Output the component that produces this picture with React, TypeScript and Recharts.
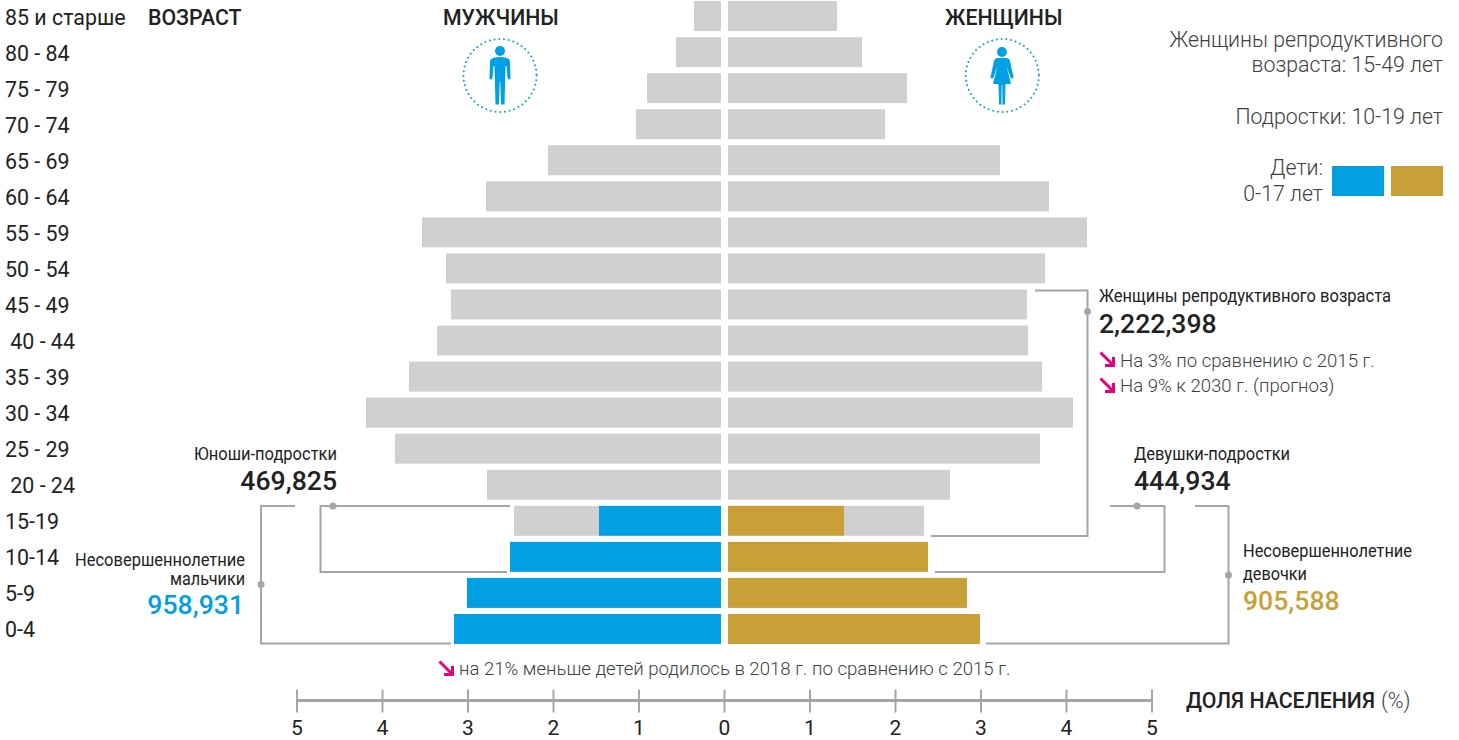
import React from "react";
import { ComposedChart, Bar, XAxis, YAxis } from "recharts";

const ageGroups = ["85 и старше","80 - 84","75 - 79","70 - 74","65 - 69","60 - 64","55 - 59","50 - 54","45 - 49","\u00a040 - 44","35 - 39","30 - 34","25 - 29","\u00a020 - 24","15-19","10-14","5-9","0-4"];
const maleGrey = [0.316,0.526,0.865,0.994,2.023,2.749,3.497,3.216,3.158,3.322,3.649,4.152,3.813,2.737,0.994,0,0,0];
const maleChild = [0,0,0,0,0,0,0,0,0,0,0,0,0,0,1.427,2.468,2.971,3.123];
const femaleGrey = [1.275,1.567,2.094,1.836,3.181,3.754,4.199,3.708,3.497,3.509,3.673,4.035,3.649,2.596,0.936,0,0,0];
const femaleChild = [0,0,0,0,0,0,0,0,0,0,0,0,0,0,1.357,2.339,2.795,2.947];
const axisTicks = [-5,-4,-3,-2,-1,0,1,2,3,4,5];

const rows = ageGroups.map((age, i) => ({
  age,
  maleChild: -maleChild[i],
  maleGrey: -maleGrey[i],
  femaleChild: femaleChild[i],
  femaleGrey: femaleGrey[i],
}));

const FONT = "Roboto, sans-serif";
const INK = "#222222";
const SOFT = "#404040";
const BLUE = "#00A0E3";
const GOLD = "#C9A037";
const GREY = "#D0D0D0";
const RULE = "#A6A6A6";
const GAP = 3.5;

const makeShape = (side: number) => (p: any) => {
  if (!p.width || Math.abs(p.width) < 0.01) return <g />;
  const x0 = Math.min(p.x, p.x + p.width) + side * GAP;
  return <rect x={x0} y={p.y} width={Math.abs(p.width)} height={p.height} fill={p.fill} />;
};
const leftShape = makeShape(-1);
const rightShape = makeShape(1);

const AgeTick = (p: any) => (
  <text x={5} y={p.y + 8.5} fontFamily={FONT} fontSize={21.4} fill={INK} style={{ whiteSpace: "pre" }}>{p.payload.value}</text>
);
const ShareTick = (p: any) => (
  <g>
    <line x1={p.x} x2={p.x} y1={691.5} y2={714.5} stroke={RULE} strokeWidth={2} />
    <text x={p.x} y={737} textAnchor="middle" fontFamily={FONT} fontSize={21} fill={INK}>{Math.abs(p.payload.value)}</text>
  </g>
);

const Arrow = ({ x, y }: { x: number; y: number }) => (
  <g transform={`translate(${x} ${y})`} fill="none" stroke="#E6007E" strokeWidth={3}>
    <path d="M0.5 0.5 L12 12" />
    <path d="M13.5 5 V13.5 H5" strokeWidth={3} />
  </g>
);

const Cond = ({ x, y, w, anchor = "start", size = 18, children }: any) => (
  <text x={x} y={y} textAnchor={anchor} fontFamily={FONT} fontSize={size} fill={INK} textLength={w} lengthAdjust="spacingAndGlyphs">{children}</text>
);
const Light = ({ x, y, anchor = "end", size = 21.3, children }: any) => (
  <text x={x} y={y} textAnchor={anchor} fontFamily={FONT} fontWeight={300} fontSize={size} fill={SOFT}>{children}</text>
);
const Big = ({ x, y, anchor = "start", fill = INK, children }: any) => (
  <text x={x} y={y} textAnchor={anchor} fontFamily={FONT} fontWeight={500} fontSize={26.6} fill={fill}>{children}</text>
);
const Head = ({ x, y, children }: any) => (
  <text x={x} y={y} fontFamily={FONT} fontWeight={500} fontSize={21.3} fill={INK}>{children}</text>
);
const Path = ({ d }: { d: string }) => <path d={d} fill="none" stroke={RULE} strokeWidth={2} />;
const Dot = ({ x, y }: { x: number; y: number }) => <circle cx={x} cy={y} r={3.5} fill={RULE} />;

const Man = () => (
  <g fill={BLUE}>
    <circle cx={500} cy={51} r={5} />
    <path d="M493 58 Q500 56 507 58 Q510 59 510 62 L510.5 78 Q510.5 79.5 509 79.5 Q508 79.5 507.5 78 L506.5 66 L505.5 66 L504.5 104.5 L501 104.5 L500.3 82 L499.7 82 L499 104.5 L495.5 104.5 L494.5 66 L493.5 66 L492.5 78 Q492 79.5 491 79.5 Q489.5 79.5 489.5 78 L490 62 Q490 59 493 58 Z" />
  </g>
);
const Woman = () => (
  <g fill={BLUE}>
    <circle cx={1002} cy={52} r={5} />
    <path d="M997 58 L1007 58 Q1009.5 58.5 1010 61 L1013.5 77 Q1013.5 78.5 1012 78.5 Q1011 78.5 1010.5 77.5 L1006.5 66 L1011 84 L1005.5 84 L1005 104.5 L1002.5 104.5 L1002.3 85 L1001.7 85 L1001.5 104.5 L999 104.5 L998.5 84 L993 84 L997.5 66 L993.5 77.5 Q993 78.5 992 78.5 Q990.5 78.5 990.5 77 L994 61 Q994.5 58.5 997 58 Z" />
  </g>
);

export default function App() {
  return (
    <div style={{ position: "absolute", left: 0, top: 0, width: 1459, height: 740, overflow: "hidden", background: "#fff" }}>
      <div style={{ position: "absolute", left: 0, top: -2 }}>
        <ComposedChart
          width={1459}
          height={742.5}
          data={rows}
          layout="vertical"
          stackOffset="sign"
          barCategoryGap={3.03}
          margin={{ top: 0, right: 307, bottom: 0, left: 0 }}
        >
          <XAxis type="number" domain={[-5, 5]} ticks={axisTicks} height={40} axisLine={{ stroke: RULE, strokeWidth: 3 }} tickLine={false} tick={ShareTick} interval={0} />
          <YAxis type="category" dataKey="age" width={297} axisLine={false} tickLine={false} tick={AgeTick} interval={0} padding={{ top: 0, bottom: 53.5 }} />
          <Bar dataKey="maleChild" stackId="s" fill={BLUE} shape={leftShape} isAnimationActive={false} />
          <Bar dataKey="maleGrey" stackId="s" fill={GREY} shape={leftShape} isAnimationActive={false} />
          <Bar dataKey="femaleChild" stackId="s" fill={GOLD} shape={rightShape} isAnimationActive={false} />
          <Bar dataKey="femaleGrey" stackId="s" fill={GREY} shape={rightShape} isAnimationActive={false} />
        </ComposedChart>
      </div>
      <svg width={1459} height={740} style={{ position: "absolute", left: 0, top: 0, pointerEvents: "none" }}>
        <Head x={148} y={25}>ВОЗРАСТ</Head>
        <Head x={443} y={25}>МУЖЧИНЫ</Head>
        <Head x={945} y={25}>ЖЕНЩИНЫ</Head>

        <circle cx={500} cy={75.5} r={36.5} fill="none" stroke={BLUE} strokeWidth={2} strokeLinecap="round" strokeDasharray="0 4.75" />
        <circle cx={1002.3} cy={75.5} r={36.5} fill="none" stroke={BLUE} strokeWidth={2} strokeLinecap="round" strokeDasharray="0 4.75" />
        <Man />
        <Woman />

        <Light x={1443} y={47}>Женщины репродуктивного</Light>
        <Light x={1443} y={72}>возраста: 15-49 лет</Light>
        <Light x={1443} y={124}>Подростки: 10-19 лет</Light>
        <Light x={1323} y={175}>Дети:</Light>
        <Light x={1323} y={201}>0-17 лет</Light>
        <rect x={1332} y={166} width={52} height={30} fill={BLUE} />
        <rect x={1391} y={166} width={52} height={30} fill={GOLD} />

        <Path d="M1035 290.5 H1087.5 V536 H931" />
        <Dot x={1087.5} y={311.5} />
        <Cond x={1099} y={302} w={292}>Женщины репродуктивного возраста</Cond>
        <Big x={1099} y={333}>2,222,398</Big>
        <Arrow x={1100} y={352} />
        <Light x={1120} y={367} anchor="start" size={18.6}>На 3% по сравнению с 2015 г.</Light>
        <Arrow x={1100} y={378} />
        <Light x={1120} y={392} anchor="start" size={18.6}>На 9% к 2030 г. (прогноз)</Light>

        <Cond x={337} y={460} w={143} anchor="end">Юноши-подростки</Cond>
        <Big x={337} y={490} anchor="end">469,825</Big>
        <Path d="M510 506 H320.5 V572 H507" />
        <Dot x={333} y={506} />
        <Path d="M295 506 H261 V643.5 H451" />
        <Dot x={261} y={584.5} />
        <Cond x={245} y={566} w={170} anchor="end">Несовершеннолетние</Cond>
        <Cond x={245} y={585} w={75} anchor="end">мальчики</Cond>
        <Big x={244} y={614} anchor="end" fill={BLUE}>958,931</Big>

        <Cond x={1134} y={460} w={156}>Девушки-подростки</Cond>
        <Big x={1134} y={490}>444,934</Big>
        <Path d="M1110 506 H1164.5 V572 H935" />
        <Dot x={1137} y={506} />
        <Path d="M1195 506 H1228.5 V643.5 H986" />
        <Dot x={1228.5} y={575} />
        <Cond x={1243} y={557} w={169}>Несовершеннолетние</Cond>
        <Cond x={1243} y={580} w={64}>девочки</Cond>
        <Big x={1243} y={610} fill={GOLD}>905,588</Big>

        <Arrow x={439} y={661} />
        <Light x={459} y={675} anchor="start" size={18.6}>на 21% меньше детей родилось в 2018 г. по сравнению с 2015 г.</Light>

        <Head x={1186} y={708}>ДОЛЯ НАСЕЛЕНИЯ</Head>
        <text x={1381} y={708} fontFamily={FONT} fontWeight={300} fontSize={21.3} fill={SOFT}>(%)</text>
      </svg>
    </div>
  );
}
